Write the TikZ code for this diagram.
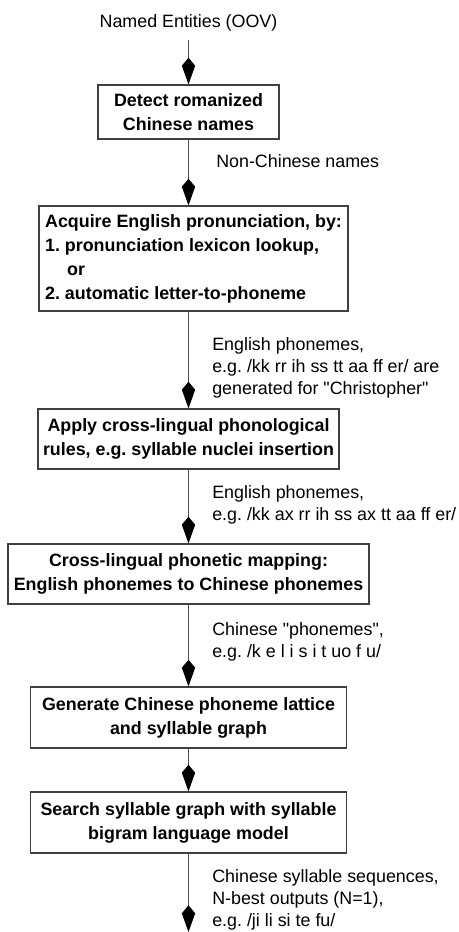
\documentclass[tikz,border=0pt]{standalone}
\usepackage{fontspec}
\setmainfont{Liberation Sans}[Ligatures=TeXOff]
\usetikzlibrary{arrows.meta}
\frenchspacing
\begin{document}
\begin{tikzpicture}[x=0.75pt,y=-0.75pt,
  box/.style={draw=black!75, line width=0.9pt, inner sep=0pt, align=center,
    font=\fontsize{13.4}{18}\selectfont\bfseries},
  lbl/.style={inner sep=0pt, anchor=base west, font=\fontsize{13.4}{16.5}\selectfont},
  flow/.style={draw=black!70, line width=0.8pt,
    -{Kite[length=20pt,width=10pt,inset=6pt,color=black]}}
]
\useasboundingbox (0,0) rectangle (459,932);

\node[lbl, anchor=base] (t0) at (188.5,27) {Named Entities (OOV)};
\coordinate (s) at (188.5,40);
\coordinate (e) at (188.5,932);

\node[box, minimum width=135.75pt, minimum height=40.5pt] (b1) at (188.5,112)
  {Detect romanized\\Chinese names};
\node[box, align=left, minimum width=231.75pt, minimum height=78.75pt] (b2) at (193.5,258.5)
  {Acquire English pronunciation, by:\\1. pronunciation lexicon lookup,\\\hspace*{16.5pt}or\\2. automatic letter-to-phoneme};
\node[box, minimum width=225.75pt, minimum height=45pt] (b3) at (188.5,439)
  {Apply cross-lingual phonological\\rules, e.g. syllable nuclei insertion};
\node[box, minimum width=270.75pt, minimum height=45pt] (b4) at (188.5,574)
  {Cross-lingual phonetic mapping:\\English phonemes to Chinese phonemes};
\node[box, minimum width=237pt, minimum height=45.75pt] (b5) at (188.5,717.5)
  {Generate Chinese phoneme lattice\\and syllable graph};
\node[box, minimum width=237pt, minimum height=45.75pt] (b6) at (188.5,822.5)
  {Search syllable graph with syllable\\bigram language model};

\node[lbl] (l1) at (216,167) {Non-Chinese names};
\node[lbl] (l2) at (212,350) {\begin{tabular}[t]{@{}l@{}}English phonemes,\\e.g. /kk rr ih ss tt aa ff er/ are\\generated for "Christopher"\end{tabular}};
\node[lbl] (l3) at (212,498) {\begin{tabular}[t]{@{}l@{}}English phonemes,\\e.g. /kk ax rr ih ss ax tt aa ff er/\end{tabular}};
\node[lbl] (l4) at (212,635) {\begin{tabular}[t]{@{}l@{}}Chinese "phonemes",\\e.g. /k e l i s i t uo f u/\end{tabular}};
\node[lbl] (l5) at (212,882) {\begin{tabular}[t]{@{}l@{}}Chinese syllable sequences,\\N-best outputs (N=1),\\e.g. /ji li si te fu/\end{tabular}};

\draw[flow] (s) -- (b1.north);
\draw[flow] (b1.south) -- (b1.south |- b2.north);
\draw[flow] (b3.north |- b2.south) -- (b3.north);
\draw[flow] (b3.south) -- (b4.north);
\draw[flow] (b4.south) -- (b5.north);
\draw[flow] (b5.south) -- (b6.north);
\draw[flow] (b6.south) -- (e);
\end{tikzpicture}
\end{document}
